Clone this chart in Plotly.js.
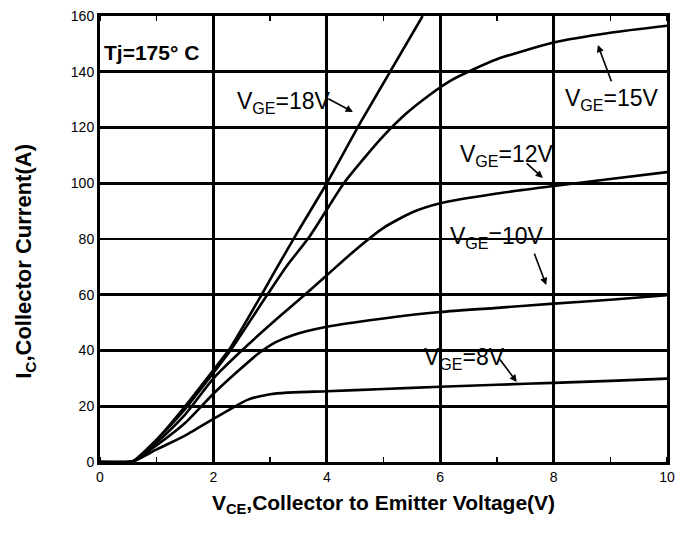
<!DOCTYPE html>
<html>
<head>
<meta charset="utf-8">
<script src="https://cdn.plot.ly/plotly-3.0.1.min.js"></script>
<style>html,body{margin:0;padding:0;background:#fff}#chart{width:692px;height:534px}</style>
</head>
<body>
<div id="chart"></div>
<script>
// Output characteristics, Tj = 175 °C
const vce18 = [0, 0.5, 0.6, 1, 1.5, 2, 2.3, 2.85, 3.1, 3.5, 4, 4.6, 5.69];
const ic18  = [0, 0, 0.5, 8, 20, 33, 41, 60, 69, 83, 100, 122, 160];

const vce15 = [0, 0.5, 0.6, 1, 1.5, 2, 2.3, 2.95, 3.3, 3.7, 4.3, 4.7, 5.0, 5.4, 5.8, 6.2, 6.6, 7, 8, 9, 10];
const ic15  = [0, 0, 0.5, 8, 19, 32, 40, 60, 70.5, 81, 100, 110, 117, 125, 131.5, 137, 141, 144.5, 150.5, 154, 156.5];

const vce12 = [0, 0.5, 0.6, 1, 1.5, 2, 2.5, 3.1, 3.5, 4, 4.5, 5, 5.5, 6, 7, 8, 9, 10];
const ic12  = [0, 0, 0.4, 7, 17, 30, 40, 51, 58, 67, 76, 84, 89.5, 92.8, 96.3, 99, 101.5, 104];

const vce10 = [0, 0.5, 0.6, 1, 1.5, 2, 2.4, 2.8, 3.1, 3.4, 4, 5, 6, 7, 8, 9, 10];
const ic10  = [0, 0, 0.4, 6, 14, 24.5, 32, 39, 43, 45.5, 48.5, 51.5, 53.8, 55.3, 56.8, 58.2, 59.8];

const vce8 = [0, 0.5, 0.6, 1, 1.5, 2, 2.3, 2.6, 3, 3.3, 4, 5, 6, 7, 8, 9, 10];
const ic8  = [0, 0, 0.3, 4.5, 9.5, 15.5, 19, 22.3, 24.3, 24.9, 25.4, 26.2, 27, 27.7, 28.4, 29.1, 29.9];

const xTicks = [0, 2, 4, 6, 8, 10];
const yTicks = [0, 20, 40, 60, 80, 100, 120, 140, 160];

const seriesNames = ['V<sub>GE</sub>=18V', 'V<sub>GE</sub>=15V', 'V<sub>GE</sub>=12V', 'V<sub>GE</sub>=10V', 'V<sub>GE</sub>=8V'];
const seriesX = [vce18, vce15, vce12, vce10, vce8];
const seriesY = [ic18, ic15, ic12, ic10, ic8];

// label positions (left edge, middle) and arrow tail/head in data units
const labelX = [2.38, 8.17, 6.31, 6.14, 5.68];
const labelY = [128.8, 129.9, 110, 80.4, 37.3];
const arrowTailX = [4.0, 9.03, 7.5, 7.65, 7.02];
const arrowTailY = [130.6, 136, 107.6, 75.3, 37.7];
const arrowHeadX = [4.46, 8.78, 7.81, 7.87, 7.35];
const arrowHeadY = [125.6, 149.6, 101.9, 63.5, 28.7];

const traces = seriesX.map((xs, i) => ({
  x: xs, y: seriesY[i], type: 'scatter', mode: 'lines', name: seriesNames[i],
  line: {color: '#000', width: 2.6, shape: 'spline', smoothing: 0.6},
  showlegend: false, hoverinfo: 'skip'
}));

const fontFam = 'Arial, "Liberation Sans", sans-serif';
const labelFont = {family: fontFam, size: 23, color: '#000'};

const annotations = [];
seriesNames.forEach((t, i) => {
  annotations.push({x: labelX[i], y: labelY[i], xref: 'x', yref: 'y', text: t,
    showarrow: false, xanchor: 'left', yanchor: 'middle', font: labelFont});
  annotations.push({x: arrowHeadX[i], y: arrowHeadY[i], ax: arrowTailX[i], ay: arrowTailY[i],
    xref: 'x', yref: 'y', axref: 'x', ayref: 'y', text: '', showarrow: true,
    arrowhead: 2, arrowsize: 0.9, arrowwidth: 1.6, arrowcolor: '#000'});
});
annotations.push({x: 0.04, y: 147, xref: 'x', yref: 'y', text: '<b>Tj=175° C</b>', showarrow: false,
  xanchor: 'left', yanchor: 'middle', font: {family: fontFam, size: 21, color: '#000'}});
// y-axis title
annotations.push({x: -0.1323, y: 0.451, xref: 'paper', yref: 'paper', textangle: -90,
  text: '<b>I<sub>C</sub>,Collector Current(A)</b>', showarrow: false,
  xanchor: 'center', yanchor: 'middle', font: {family: fontFam, size: 22, color: '#000'}});

const axisCommon = {
  showgrid: true, gridcolor: '#000', gridwidth: 2.6,
  showline: true, linecolor: '#000', linewidth: 3, mirror: 'ticks',
  zeroline: false, ticks: '', fixedrange: true,
  tickfont: {family: fontFam, size: 14, color: '#000'}
};

const layout = {
  width: 692, height: 534,
  margin: {l: 100, r: 25, t: 16, b: 72},
  paper_bgcolor: '#fff', plot_bgcolor: '#fff',
  xaxis: Object.assign({}, axisCommon, {
    range: [0, 10], tickvals: xTicks, ticktext: xTicks.map(String),
    minor: {dtick: 1, ticks: 'inside', ticklen: 5, tickwidth: 1.5, tickcolor: '#000', showgrid: false},
    title: {text: '<b>V<sub>CE</sub>,Collector to Emitter Voltage(V)</b>', standoff: 12,
      font: {family: fontFam, size: 21, color: '#000'}}
  }),
  yaxis: Object.assign({}, axisCommon, {
    range: [0, 160], tickvals: yTicks, ticktext: yTicks.map(String)
  }),
  annotations: annotations
};

Plotly.newPlot('chart', traces, layout, {displayModeBar: false, staticPlot: true});
</script>
</body>
</html>
